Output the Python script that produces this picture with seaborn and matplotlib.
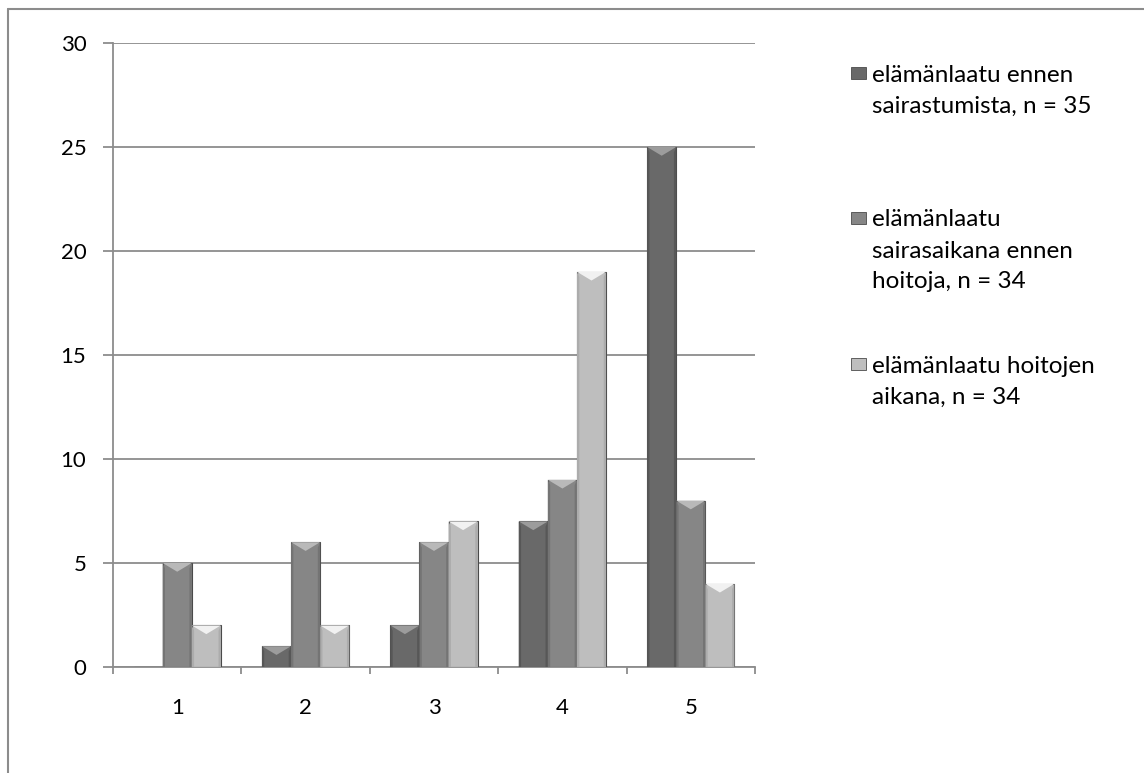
import matplotlib
matplotlib.use('Agg')
import matplotlib.pyplot as plt
import seaborn as sns
import pandas as pd
import matplotlib.colors as mcolors
from matplotlib.patches import Polygon, Rectangle
from matplotlib.lines import Line2D

# ---- data ----
categories = ['1', '2', '3', '4', '5']
series_names = [
    'elämänlaatu ennen sairastumista, n = 35',
    'elämänlaatu sairasaikana ennen hoitoja, n = 34',
    'elämänlaatu hoitojen aikana, n = 34',
]
legend_lines = [
    ['elämänlaatu ennen', 'sairastumista, n = 35'],
    ['elämänlaatu', 'sairasaikana ennen', 'hoitoja, n = 34'],
    ['elämänlaatu hoitojen', 'aikana, n = 34'],
]
before_illness = [0, 1, 2, 7, 25]
during_illness = [5, 6, 6, 9, 8]
during_treatment = [2, 2, 7, 19, 4]
yticks = [0, 5, 10, 15, 20, 25, 30]

colors = ['#696969', '#868686', '#bebebe']

sns.set_theme(style='white')
plt.rcParams['font.family'] = ['Lato', 'DejaVu Sans']

W, H = 1144, 773
fig = plt.figure(figsize=(W / 100, H / 100), dpi=100)
fig.patch.set_facecolor('white')

ax = fig.add_axes([113 / W, 1 - 667 / H, (755 - 113) / W, (667 - 43) / H])

rows = []
for name, vals in zip(series_names, [before_illness, during_illness, during_treatment]):
    for c, v in zip(categories, vals):
        rows.append({'category': c, 'value': v, 'series': name})
df = pd.DataFrame(rows)

sns.barplot(data=df, x='category', y='value', hue='series', hue_order=series_names,
            order=categories, palette=colors, saturation=1, width=0.68,
            edgecolor='#4a4a4a', linewidth=0.8, legend=False, ax=ax, zorder=3)

# bevel highlight on top of each bar, derived from the bar geometry
for p in list(ax.patches):
    h = p.get_height()
    if h <= 0:
        continue
    x0, w = p.get_x(), p.get_width()
    fc = mcolors.to_rgb(p.get_facecolor())
    light = tuple(min(1, c + 0.2) for c in fc)
    dark = tuple(max(0, c - 0.07) for c in fc)
    d = min(0.42, h * 0.45)
    top = h
    ax.add_patch(Polygon([(x0, top), (x0 + w, top), (x0 + w * 0.5, top - d)],
                         closed=True, facecolor=light, edgecolor='none', zorder=4))
    ax.add_patch(Polygon([(x0, top), (x0 + w * 0.08, top - d * 0.6), (x0 + w * 0.08, 0), (x0, 0)],
                         closed=True, facecolor=dark, edgecolor='none', zorder=4))
    ax.add_patch(Polygon([(x0 + w, top), (x0 + w * 0.92, top - d * 0.6), (x0 + w * 0.92, 0), (x0 + w, 0)],
                         closed=True, facecolor=dark, edgecolor='none', zorder=4))

ax.set_xlim(-0.5, len(categories) - 0.5)
ax.set_ylim(0, 30)
ax.set_yticks(yticks)
ax.set_yticklabels([str(t) for t in yticks])
ax.set_xlabel('')
ax.set_ylabel('')

grid_c = '#8c8c8c'
ax.yaxis.grid(True, color=grid_c, linewidth=1.3, zorder=0)
ax.xaxis.grid(False)
ax.set_axisbelow(True)
for s in ['top', 'right']:
    ax.spines[s].set_visible(False)
for s in ['left', 'bottom']:
    ax.spines[s].set_color(grid_c)
    ax.spines[s].set_linewidth(1.3)

ax.tick_params(axis='y', which='major', direction='out', length=7.2, width=1.3,
               color=grid_c, pad=12, labelsize=16, labelcolor='black', left=True)
ax.set_xticks(range(len(categories)))
ax.set_xticklabels(categories)
ax.set_xticks([i - 0.5 for i in range(len(categories) + 1)], minor=True)
ax.tick_params(axis='x', which='major', length=0, pad=22, labelsize=16, labelcolor='black')
ax.tick_params(axis='x', which='minor', direction='out', length=5, width=1.3,
               color=grid_c, bottom=True)

# outer chart border (top and left visible)
fig.add_artist(Line2D([8 / W, 1], [1 - 9 / H, 1 - 9 / H], transform=fig.transFigure,
                      color=grid_c, linewidth=1.5))
fig.add_artist(Line2D([8 / W, 8 / W], [1 - 9 / H, 0], transform=fig.transFigure,
                      color=grid_c, linewidth=1.5))

# legend
entry_tops = [73, 218, 364]
line_step = 31
for lines, col, yc in zip(legend_lines, colors, entry_tops):
    mw, mh = 15, 12
    fig.add_artist(Rectangle((851 / W, 1 - (yc + mh / 2) / H), mw / W, mh / H,
                             transform=fig.transFigure, facecolor=col,
                             edgecolor='#4a4a4a', linewidth=0.6))
    for k, txt in enumerate(lines):
        y = yc + k * line_step
        fig.text(872 / W, 1 - y / H, txt, fontsize=17.5, color='black',
                 ha='left', va='center_baseline')

fig.savefig('out.png', dpi=100)
